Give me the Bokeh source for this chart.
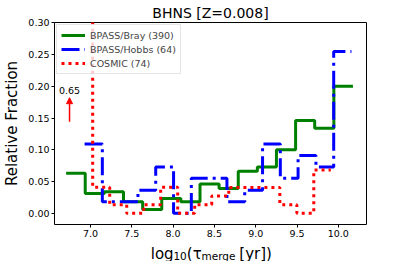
from bokeh.plotting import figure
from bokeh.layouts import column
from bokeh.models import Range1d, FixedTicker, Label, Arrow, NormalHead, NumeralTickFormatter
from bokeh.core.properties import value
from bokeh.embed import file_html
from bokeh.resources import INLINE

# ---- data ----
x_ticks = [7.0, 7.5, 8.0, 8.5, 9.0, 9.5, 10.0]
x_tick_labels = ["7.0", "7.5", "8.0", "8.5", "9.0", "9.5", "10.0"]
y_ticks = [0.0, 0.05, 0.10, 0.15, 0.20, 0.25, 0.30]
y_tick_labels = ["0.00", "0.05", "0.10", "0.15", "0.20", "0.25", "0.30"]

bray_edges = [6.706, 6.937, 7.169, 7.400, 7.632, 7.863, 8.094, 8.326, 8.557,
              8.789, 9.020, 9.251, 9.483, 9.714, 9.946, 10.177]
bray_frac = [0.063, 0.031, 0.034, 0.018, 0.006, 0.023, 0.018, 0.046, 0.039,
             0.066, 0.073, 0.100, 0.146, 0.134, 0.200]

hobbs_edges = [6.929, 7.144, 7.360, 7.575, 7.790, 8.006, 8.221, 8.436, 8.652,
               8.867, 9.083, 9.298, 9.513, 9.729, 9.944, 10.159]
hobbs_frac = [0.109, 0.018, 0.018, 0.036, 0.073, 0.0, 0.055, 0.055, 0.018,
              0.036, 0.109, 0.055, 0.091, 0.073, 0.255]

cosmic_edges = [6.821, 7.027, 7.233, 7.439, 7.645, 7.850, 8.056, 8.262, 8.468,
                8.674, 8.880, 9.086, 9.292, 9.498, 9.703, 9.909]
cosmic_frac = [0.65, 0.041, 0.0135, 0.0, 0.0135, 0.041, 0.0, 0.0135, 0.027,
               0.0405, 0.0405, 0.0405, 0.0135, 0.0, 0.068]

series_names = ["BPASS/Bray (390)", "BPASS/Hobbs (64)", "COSMIC (74)"]
title_text = "BHNS [Z=0.008]"
y_label = "Relative Fraction"
# x-axis label "log10(tau_merge [yr])": main-size pieces and subscript pieces
x_label_main = ["log", "(τ", "[yr])"]
x_label_main_at = [7.730, 8.167, 8.802]   # positions along the x axis
x_label_sub = ["10", "merge"]
x_label_sub_at = [8.004, 8.344]
peak_label = "0.65"
peak_x = 6.747
arrow_y = [0.144, 0.182]
peak_text_y = 0.193

FONT = "DejaVu Sans"
W = 399
H_MAIN = 241
H_LAB = 20

xr = Range1d(6.565, 10.341)
p = figure(width=W, height=H_MAIN, output_backend="svg", toolbar_location=None,
           x_range=xr, y_range=Range1d(-0.0178, 0.3005),
           min_border_left=45, min_border_right=33, min_border_top=18,
           min_border_bottom=17)
p.background_fill_color = "white"
p.border_fill_color = "white"
p.outline_line_color = "black"
p.outline_line_width = 1
p.xgrid.visible = False
p.ygrid.visible = False

p.title.text = title_text
p.title.align = "center"
p.title.text_font = FONT
p.title.text_font_size = "14px"
p.title.text_font_style = "normal"
p.title.text_color = "black"
p.title.standoff = 4
p.title.offset = -1

for ax in (p.xaxis, p.yaxis):
    ax.axis_line_color = None
    ax.major_tick_in = 0
    ax.major_tick_out = 3
    ax.major_tick_line_color = "black"
    ax.minor_tick_line_color = None
    ax.major_label_text_font = FONT
    ax.major_label_text_font_size = "9.5px"
    ax.major_label_text_color = "black"
    ax.major_label_standoff = 2

p.yaxis.axis_label = y_label
p.yaxis.axis_label_text_font = FONT
p.yaxis.axis_label_text_font_size = "15px"
p.yaxis.axis_label_text_font_style = "normal"
p.yaxis.axis_label_text_color = "black"
p.yaxis.axis_label_standoff = 4

p.xaxis.ticker = FixedTicker(ticks=x_ticks)
p.yaxis.ticker = FixedTicker(ticks=y_ticks)
p.xaxis.formatter = NumeralTickFormatter(format="0.0")
p.yaxis.formatter = NumeralTickFormatter(format="0.00")
p.xaxis.major_label_overrides = dict(zip(x_ticks, x_tick_labels))
p.yaxis.major_label_overrides = dict(zip(y_ticks, y_tick_labels))

p.step(bray_edges, bray_frac + bray_frac[-1:], mode="after", line_color="#008000",
       line_width=3, legend_label=series_names[0])
p.step(hobbs_edges, hobbs_frac + hobbs_frac[-1:], mode="after", line_color="#0000ff",
       line_width=3, line_dash="18 5 3 5", legend_label=series_names[1])
p.step(cosmic_edges, cosmic_frac + cosmic_frac[-1:], mode="after", line_color="#ff0000",
       line_width=3, line_dash="3 4", legend_label=series_names[2])

leg = p.legend[0]
leg.location = "top_left"
leg.margin = 2
leg.padding = 4
leg.spacing = 2
leg.glyph_width = 24
leg.glyph_height = 12
leg.label_height = 12
leg.label_standoff = 5
leg.label_text_font = FONT
leg.label_text_font_size = "9.5px"
leg.border_line_color = "#cccccc"
leg.border_line_width = 1
leg.background_fill_alpha = 0.8

p.add_layout(Arrow(end=NormalHead(size=6, fill_color="#ff0000", line_color="#ff0000"),
                   x_start=peak_x, y_start=arrow_y[0], x_end=peak_x, y_end=arrow_y[1],
                   line_color="#ff0000", line_width=1.5))
p.add_layout(Label(text=peak_label, x=peak_x, y=peak_text_y, text_align="center",
                   text_baseline="alphabetic", text_font=FONT, text_font_size="9.5px",
                   text_color="black"))

# x-axis label strip: shares the main x range, so its frame lines up with the plot
q = figure(width=W, height=H_LAB, output_backend="svg", toolbar_location=None,
           x_range=xr, y_range=Range1d(0, H_LAB),
           min_border_left=45, min_border_right=33, min_border_top=0, min_border_bottom=0,
           title=None, x_axis_location=None, y_axis_location=None)
q.grid.visible = False
q.outline_line_color = None
q.background_fill_color = "white"
q.border_fill_color = "white"
q.text(x=x_label_main_at, y=[8] * len(x_label_main), text=x_label_main,
       text_font=value(FONT), text_font_size="15px", text_color="black",
       text_baseline="alphabetic")
q.text(x=x_label_sub_at, y=[5.5] * len(x_label_sub), text=x_label_sub,
       text_font=value(FONT), text_font_size="10.5px", text_color="black",
       text_baseline="alphabetic")

open("out.html", "w").write(file_html(column(p, q, spacing=0), INLINE))
